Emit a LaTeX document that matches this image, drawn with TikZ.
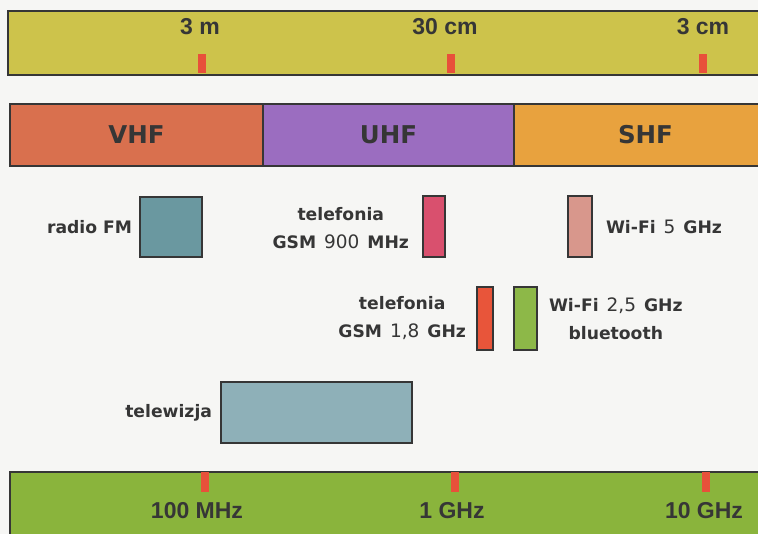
\documentclass[tikz,border=0pt]{standalone}
\usepackage{fontspec}
\setmainfont{DejaVu Sans}
\newfontfamily\scalefont{Liberation Sans}
\usetikzlibrary{positioning}

\definecolor{ink}{HTML}{363636}
\definecolor{paper}{HTML}{F6F6F4}
\definecolor{tickred}{HTML}{E8503A}
\definecolor{waveyellow}{HTML}{CDC34B}
\definecolor{freqgreen}{HTML}{8AB43C}
\definecolor{vhfcol}{HTML}{D9704E}
\definecolor{uhfcol}{HTML}{9B6DC0}
\definecolor{shfcol}{HTML}{E8A23E}
\definecolor{fmcol}{HTML}{6A98A0}
\definecolor{tvcol}{HTML}{8EB0B8}
\definecolor{gsmninecol}{HTML}{D9506E}
\definecolor{gsmeightcol}{HTML}{E8553A}
\definecolor{wififivecol}{HTML}{D8978C}
\definecolor{wifitwocol}{HTML}{8DB848}

\newcommand{\regnum}[1]{{\mdseries\fontsize{18.5}{28}\selectfont #1}}
\newcommand{\wordgap}{\hspace{8pt}}

\begin{document}
\begin{tikzpicture}[x=1pt, y=-1pt,
  every node/.style={text=ink},
  bar/.style={draw=ink, line width=1.8pt, inner sep=0pt},
  band/.style={bar, minimum height=62pt, font=\fontsize{24.5}{25}\selectfont\bfseries},
  tickmark/.style={fill=tickred, minimum width=8pt, minimum height=19pt, inner sep=0pt},
  scalelabel/.style={font=\scalefont\fontsize{23}{23}\selectfont\bfseries, inner sep=0pt},
  item/.style={draw=ink, line width=1.6pt, inner sep=0pt},
  tag/.style={font=\fontsize{17.2}{28}\selectfont\bfseries, align=center, inner sep=0pt}
]
\clip (0,0) rectangle (758,534);
\fill[paper] (0,0) rectangle (758,534);

\node[bar, fill=waveyellow, minimum width=762pt, minimum height=64pt] (waveBar) at (389,43) {};
\node[tickmark] (tickA) at (202,64) {};
\node[tickmark] (tickB) at (451,64) {};
\node[tickmark] (tickC) at (703,64) {};
\node[scalelabel, above=19pt of tickA, xshift=-2pt] (waveA) {3 m};
\node[scalelabel, above=19pt of tickB, xshift=-6pt] (waveB) {30 cm};
\node[scalelabel, above=19pt of tickC] (waveC) {3 cm};

\node[band, fill=vhfcol, minimum width=253pt] (vhf) at (136.5,135) {VHF};
\node[band, fill=uhfcol, minimum width=251pt] (uhf) at (388.5,135) {UHF};
\node[band, fill=shfcol, minimum width=256pt, text width=244pt, align=left] (shf) at (642,135) {\hspace{98pt}SHF};

\node[item, fill=fmcol, minimum width=62pt, minimum height=60pt] (radioFM) at (171,227) {};
\node[tag, left=7pt of radioFM] (radioTag) {radio FM};

\node[item, fill=gsmninecol, minimum width=22pt, minimum height=61pt] (gsmNine) at (434,226.5) {};
\node[tag, left=13pt of gsmNine, yshift=-2pt] (gsmNineTag) {telefonia\\GSM\wordgap\regnum{900}\wordgap MHz};

\node[item, fill=wififivecol, minimum width=24pt, minimum height=61pt] (wifiFive) at (580,226.5) {};
\node[tag, right=13pt of wifiFive] (wifiFiveTag) {Wi-Fi\wordgap\regnum{5}\wordgap GHz};

\node[item, fill=gsmeightcol, minimum width=16pt, minimum height=63pt] (gsmEight) at (485,318.5) {};
\node[tag, left=10pt of gsmEight] (gsmEightTag) {telefonia\\GSM\wordgap\regnum{1,8}\wordgap GHz};

\node[item, fill=wifitwocol, minimum width=23pt, minimum height=63pt] (wifiTwo) at (525.5,318.5) {};
\node[tag, right=11pt of wifiTwo] (wifiTwoTag) {Wi-Fi\wordgap\regnum{2,5}\wordgap GHz\\bluetooth};

\node[item, fill=tvcol, minimum width=191pt, minimum height=61pt] (tv) at (316.5,412.5) {};
\node[tag, left=8pt of tv] (tvTag) {telewizja};

\node[bar, fill=freqgreen, minimum width=760pt, minimum height=73pt] (freqBar) at (390,508.5) {};
\node[tickmark] (tickD) at (205,482) {};
\node[tickmark] (tickE) at (455,482) {};
\node[tickmark] (tickF) at (706,482) {};
\node[scalelabel, below=11pt of tickD, xshift=-8pt] (freqD) {100 MHz};
\node[scalelabel, below=11pt of tickE, xshift=-3pt] (freqE) {1 GHz};
\node[scalelabel, below=11pt of tickF, xshift=-2pt] (freqF) {10 GHz};
\end{tikzpicture}
\end{document}
